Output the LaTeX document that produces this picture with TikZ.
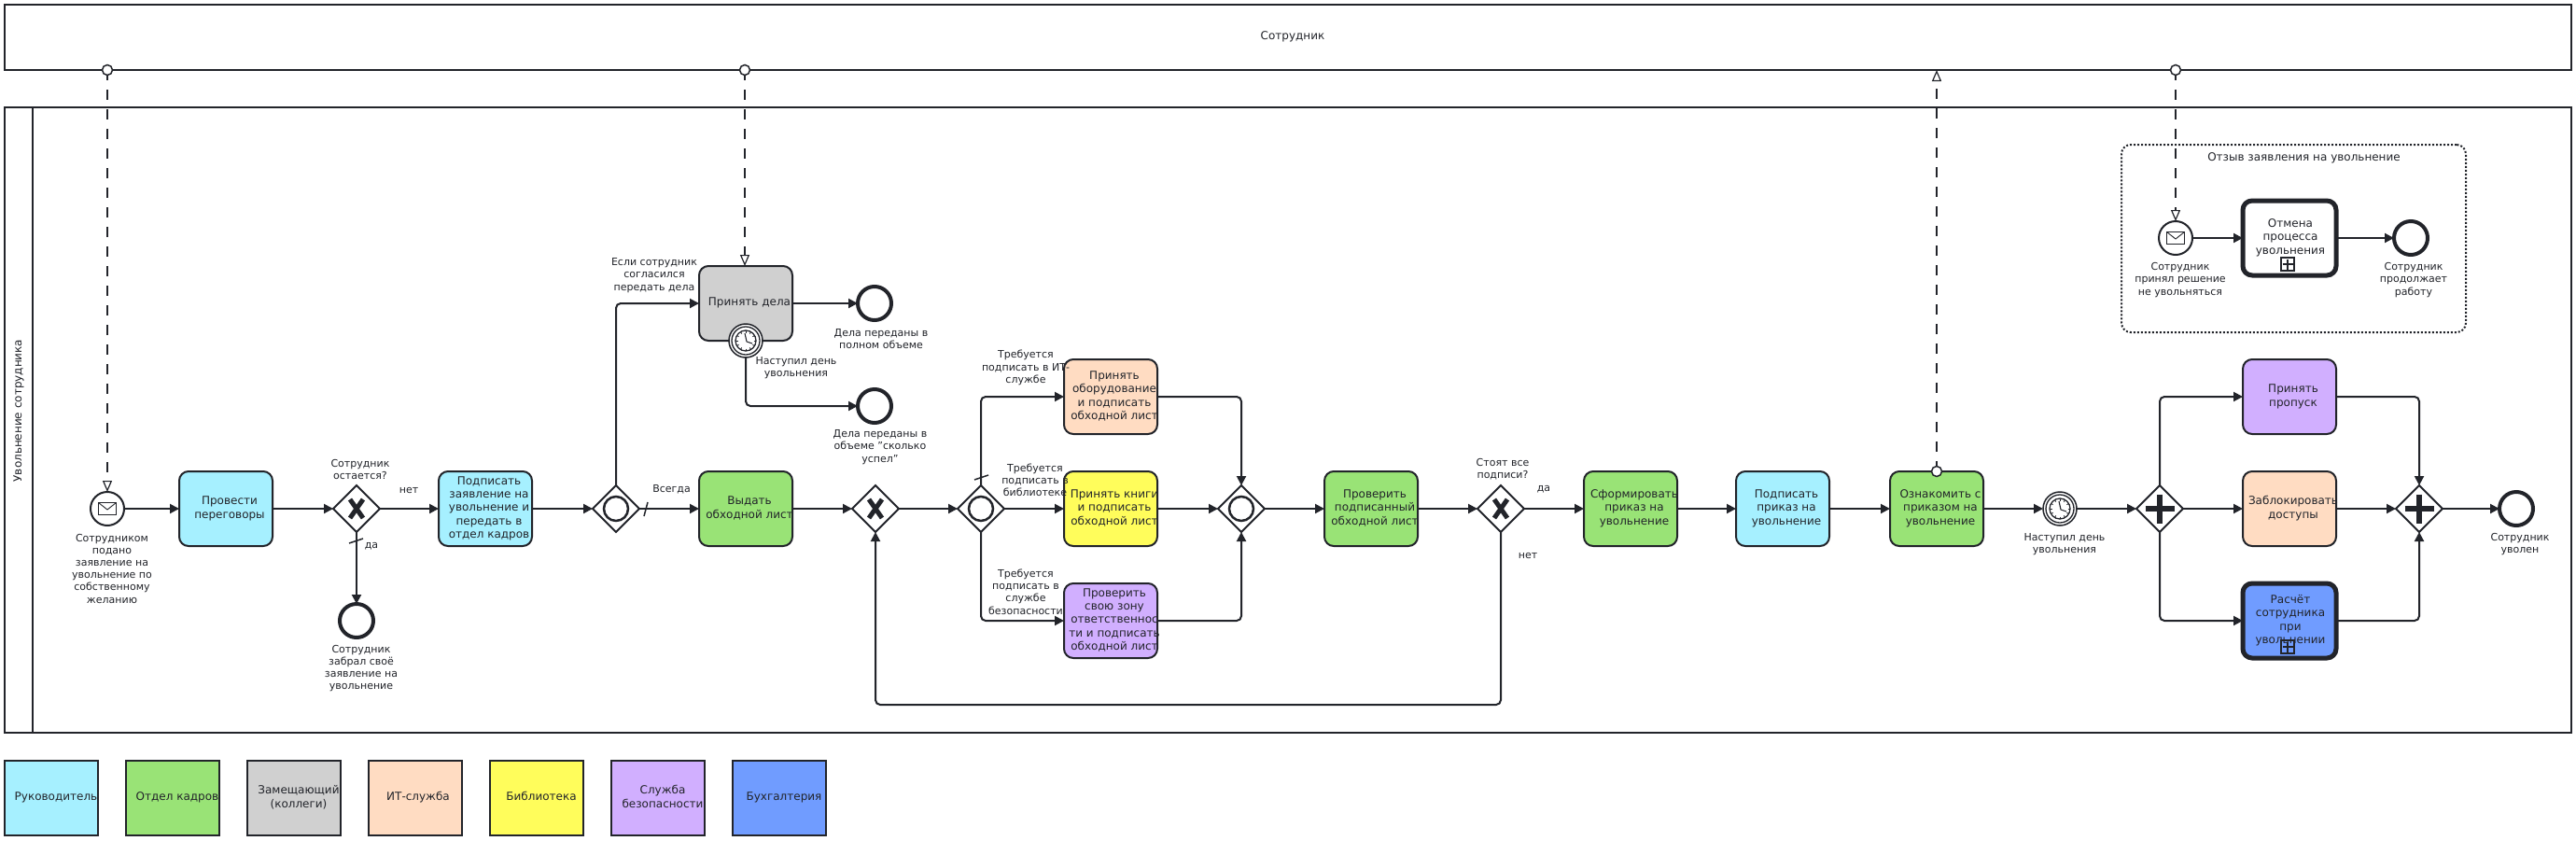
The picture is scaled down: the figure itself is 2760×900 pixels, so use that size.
\documentclass[tikz,border=0pt]{standalone}
\usepackage{fontspec}
\setmainfont{DejaVu Sans}
\usetikzlibrary{shapes.geometric,arrows.meta}
\definecolor{ink}{HTML}{22242A}
\definecolor{headcol}{HTML}{A6F0FF}
\definecolor{hrcol}{HTML}{99E376}
\definecolor{deputycol}{HTML}{D0D0D0}
\definecolor{itcol}{HTML}{FFDCC2}
\definecolor{libcol}{HTML}{FFFD5B}
\definecolor{seccol}{HTML}{D1AFFF}
\definecolor{paycol}{HTML}{709CFF}
\newcommand{\boxtxt}[2][8pt]{\makebox[0pt][c]{\hspace{#1}\begin{tabular}{@{}c@{}}#2\end{tabular}}}

\begin{document}
\begin{tikzpicture}
    [
    x=1pt,y=-1pt,color=ink,
    every node/.style = {outer sep=0pt,inner sep=0pt},
    tasktxt/.style = {font=\fontsize{12}{14.4}\selectfont},
    lbl/.style = {font=\fontsize{11}{13.2}\selectfont,align=center},
    pool/.style = {draw,line width=1.5pt,fill=white,tasktxt},
    task/.style = {draw,line width=2pt,rounded corners=10pt,minimum width=100pt,minimum height=80pt,tasktxt},
    bigtask/.style = {task,line width=5pt},
    legend/.style = {draw,line width=1.5pt,minimum width=100pt,minimum height=80pt,tasktxt},
    gate/.style = {draw,fill=white,line width=2pt,diamond,aspect=1,minimum width=50pt,minimum height=50pt},
    xorgate/.style = {gate,path picture={
        \draw[line width=5pt,shift={(path picture bounding box.center)}] (-7,-10) -- (7,10) (7,-10) -- (-7,10);}},
    orgate/.style = {gate,path picture={
        \draw[line width=2.5pt,shift={(path picture bounding box.center)}] (0,0) circle (13);}},
    andgate/.style = {gate,path picture={
        \draw[line width=6.5pt,shift={(path picture bounding box.center)}] (-15.5,0) -- (15.5,0) (0,-15.5) -- (0,15.5);}},
    endev/.style = {draw,circle,fill=white,line width=4pt,minimum size=36pt},
    msgev/.style = {draw,circle,fill=white,line width=2pt,minimum size=36pt,path picture={
        \draw[line width=.9pt,shift={(path picture bounding box.center)}] (-9.5,-6.5) rectangle (9.5,6.5) (-9.5,-6.5) -- (0,1) -- (9.5,-6.5);}},
    timerev/.style = {draw,circle,fill=white,line width=1.5pt,minimum size=36pt,path picture={
        \begin{scope}[shift={(path picture bounding box.center)}]
        \draw[line width=1.3pt] (0,0) circle (15) (0,0) circle (11);
        \foreach \a in {0,30,...,330} {\draw[line width=.7pt] (\a:8.5) -- (\a:10.5);}
        \draw[line width=1.1pt] (1,1) -- (-1,-8) (1,1) -- (7,3);
        \end{scope}}},
    plusbox/.style = {draw,line width=1.1pt,minimum size=14pt,path picture={
        \draw[line width=1.3pt,shift={(path picture bounding box.center)}] (-5.5,0) -- (5.5,0) (0,-5.5) -- (0,5.5);}},
    msgdot/.style = {draw,circle,fill=white,line width=1.5pt,minimum size=11pt},
    flow/.style = {line width=2pt,rounded corners=5pt,-{Triangle[length=10pt,width=10pt]}},
    msgflow/.style = {line width=1.2pt,dash pattern=on 11pt off 10pt,dash phase=5.5pt,-{Triangle[fill=white,length=12pt,width=10pt,line width=1.2pt]}},
    slash/.style = {line width=1.5pt}
    ]
\useasboundingbox (0,0) rectangle (2760,900);

% pools
\node[pool,minimum width=2750pt,minimum height=70pt] (staff) at (1380,40) {\boxtxt[10pt]{Сотрудник}};
\node[pool,minimum width=2750pt,minimum height=670pt] (dismiss) at (1380,450) {};
\draw[line width=1.5pt] ([xshift=30pt]dismiss.north west) -- ([xshift=30pt]dismiss.south west);
\node[tasktxt,rotate=90] (dismisstitle) at (20,440) {Увольнение сотрудника};

% cancel sub process
\node[draw,line width=2pt,dash pattern=on 2pt off 2pt,rounded corners=10pt,minimum width=369pt,minimum height=201pt] (cancelbox) at (2457.5,255.5) {};
\node[tasktxt] (canceltitle) at (2468.5,169) {Отзыв заявления на увольнение};
\node[msgev] (cancelstart) at (2331,255) {};
\node[bigtask,fill=white] (cancel) at (2453,255) {\boxtxt[2pt]{Отмена\\процесса\\увольнения}};
\node[plusbox] (cancelplus) at (2451,283) {};
\node[endev] (cancelend) at (2583,255) {};
\node[lbl] (cancelstartlbl) at (2336,300) {Сотрудник\\принял решение\\не увольняться};
\node[lbl] (cancelendlbl) at (2586,300) {Сотрудник\\продолжает\\работу};

% main line
\node[msgev] (start) at (115,545) {};
\node[task,fill=headcol] (talk) at (242,545) {\boxtxt{Провести\\переговоры}};
\node[xorgate] (staygate) at (382,545) {};
\node[task,fill=headcol] (sign) at (520,545) {\boxtxt{Подписать\\заявление на\\увольнение и\\передать в\\отдел кадров}};
\node[orgate] (handgate) at (660,545) {};
\node[task,fill=hrcol] (sheet) at (799,545) {\boxtxt{Выдать\\обходной лист}};
\node[xorgate] (sheetgate) at (938,545) {};
\node[orgate] (splitgate) at (1051,545) {};
\node[task,fill=itcol] (ittask) at (1190,425) {\boxtxt{Принять\\оборудование\\и подписать\\обходной лист}};
\node[task,fill=libcol] (libtask) at (1190,545) {\boxtxt{Принять книги\\и подписать\\обходной лист}};
\node[task,fill=seccol] (sectask) at (1190,665) {\boxtxt{Проверить\\свою зону\\ответственнос\\ти и подписать\\обходной лист}};
\node[orgate] (joingate) at (1330,545) {};
\node[task,fill=hrcol] (check) at (1469,545) {\boxtxt{Проверить\\подписанный\\обходной лист}};
\node[xorgate] (signgate) at (1608,545) {};
\node[task,fill=hrcol] (order) at (1747,545) {\boxtxt{Сформировать\\приказ на\\увольнение}};
\node[task,fill=headcol] (ordersign) at (1910,545) {\boxtxt{Подписать\\приказ на\\увольнение}};
\node[task,fill=hrcol] (inform) at (2075,545) {\boxtxt{Ознакомить с\\приказом на\\увольнение}};
\node[timerev] (daytimer) at (2207,545) {};
\node[andgate] (lastsplit) at (2314,545) {};
\node[task,fill=seccol] (pass) at (2453,425) {\boxtxt{Принять\\пропуск}};
\node[task,fill=itcol] (block) at (2453,545) {\boxtxt{Заблокировать\\доступы}};
\node[bigtask,fill=paycol] (pay) at (2453,665) {\boxtxt[2pt]{Расчёт\\сотрудника\\при\\увольнении}};
\node[plusbox] (payplus) at (2451,693) {};
\node[andgate] (lastjoin) at (2592,545) {};
\node[endev] (fired) at (2696,545) {};
\node[endev] (staysend) at (382,665) {};

% handover branch
\node[task,fill=deputycol] (accept) at (799,325) {\boxtxt{Принять дела}};
\node[timerev] (accepttimer) at (799,365) {};
\node[endev] (fullend) at (937,325) {};
\node[endev] (partend) at (937,435) {};

% labels
\node[lbl] (startlbl) at (120,609) {Сотрудником\\подано\\заявление на\\увольнение по\\собственному\\желанию};
\node[lbl] (staylbl) at (386,503) {Сотрудник\\остается?};
\node[lbl] (staynolbl) at (438,525) {нет};
\node[lbl] (stayyeslbl) at (398,585) {да};
\node[lbl] (staysendlbl) at (387,716) {Сотрудник\\забрал своё\\заявление на\\увольнение};
\node[lbl] (alwayslbl) at (719.5,524) {Всегда};
\node[lbl] (agreelbl) at (701,295) {Если сотрудник\\согласился\\передать дела};
\node[lbl] (accepttimerlbl) at (853,394) {Наступил день\\увольнения};
\node[lbl] (fullendlbl) at (944,363) {Дела переданы в\\полном объеме};
\node[lbl] (partendlbl) at (943,479) {Дела переданы в\\объеме "сколько\\успел"};
\node[lbl] (itlbl) at (1099,394) {Требуется\\подписать в ИТ-\\службе};
\node[lbl] (liblbl) at (1109,514) {Требуется\\подписать в\\библиотеке};
\node[lbl] (seclbl) at (1099,634) {Требуется\\подписать в\\службе\\безопасности};
\node[lbl] (signlbl) at (1610,503) {Стоят все\\подписи?};
\node[lbl] (signyeslbl) at (1654,524) {да};
\node[lbl] (signnolbl) at (1637,595) {нет};
\node[lbl] (daytimerlbl) at (2212,583) {Наступил день\\увольнения};
\node[lbl] (firedlbl) at (2700,583) {Сотрудник\\уволен};

% legend
\node[legend,fill=headcol] (leghead) at (55,855) {\boxtxt[10pt]{Руководитель}};
\node[legend,fill=hrcol] (leghr) at (185,855) {\boxtxt[10pt]{Отдел кадров}};
\node[legend,fill=deputycol] (legdeputy) at (315,855) {\boxtxt[10pt]{Замещающий\\(коллеги)}};
\node[legend,fill=itcol] (legit) at (445,855) {\boxtxt[6pt]{ИТ-служба}};
\node[legend,fill=libcol] (leglib) at (575,855) {\boxtxt[10pt]{Библиотека}};
\node[legend,fill=seccol] (legsec) at (705,855) {\boxtxt[10pt]{Служба\\безопасности}};
\node[legend,fill=paycol] (legpay) at (835,855) {\boxtxt[10pt]{Бухгалтерия}};

% sequence flows
\draw[flow] (start) -- (talk);
\draw[flow] (talk) -- (staygate);
\draw[flow] (staygate) -- (sign);
\draw[flow] (staygate) -- (staysend);
\draw[flow] (sign) -- (handgate);
\draw[flow] (handgate) -- (sheet);
\draw[flow] (handgate.north) |- (accept.west);
\draw[flow] (accept) -- (fullend);
\draw[flow] (accepttimer.south) |- (partend.west);
\draw[flow] (sheet) -- (sheetgate);
\draw[flow] (sheetgate) -- (splitgate);
\draw[flow] (splitgate.north) |- (ittask.west);
\draw[flow] (splitgate) -- (libtask);
\draw[flow] (splitgate.south) |- (sectask.west);
\draw[flow] (ittask.east) -| (joingate.north);
\draw[flow] (libtask) -- (joingate);
\draw[flow] (sectask.east) -| (joingate.south);
\draw[flow] (joingate) -- (check);
\draw[flow] (check) -- (signgate);
\draw[flow] (signgate) -- (order);
\coordinate (backloop) at (1270,755);
\draw[flow] (signgate.south) |- (backloop) -| (sheetgate.south);
\draw[flow] (order) -- (ordersign);
\draw[flow] (ordersign) -- (inform);
\draw[flow] (inform) -- (daytimer);
\draw[flow] (daytimer) -- (lastsplit);
\draw[flow] (lastsplit.north) |- (pass.west);
\draw[flow] (lastsplit) -- (block);
\draw[flow] (lastsplit.south) |- (pay.west);
\draw[flow] (pass.east) -| (lastjoin.north);
\draw[flow] (block) -- (lastjoin);
\draw[flow] (pay.east) -| (lastjoin.south);
\draw[flow] (lastjoin) -- (fired);
\draw[flow] (cancelstart) -- (cancel);
\draw[flow] (cancel) -- (cancelend);

% default marks
\draw[slash] ([shift={(-8,37)}]staygate.center) -- ++(15,-5);
\draw[slash] ([shift={(30,8)}]handgate.center) -- ++(4,-15);
\draw[slash] ([shift={(-7,-31)}]splitgate.center) -- ++(15,-5);

% message flows
\node[msgdot] (staffdota) at (115,75) {};
\node[msgdot] (staffdotb) at (798,75) {};
\node[msgdot] (staffdotc) at (2331,75) {};
\node[msgdot] (informdot) at (2075,505) {};
\draw[msgflow] (staffdota.south) -- (start.north);
\draw[msgflow] (staffdotb.south) -- (accept.north -| staffdotb);
\draw[msgflow] (staffdotc.south) -- (cancelstart.north);
\draw[msgflow] (informdot.north) -- (informdot |- staff.south);

\end{tikzpicture}
\end{document}
